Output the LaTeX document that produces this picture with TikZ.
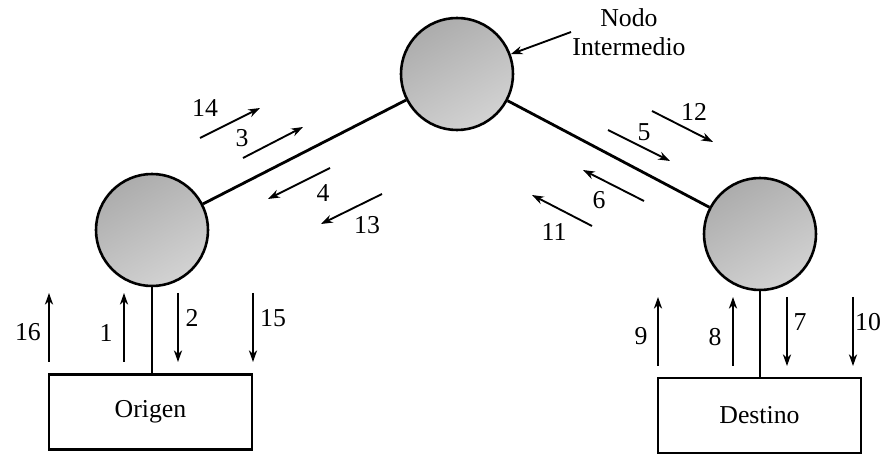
\documentclass[tikz,border=0pt]{standalone}
\usepackage{fontspec}
\setmainfont{Liberation Serif}
\usepackage{tikz}
\usetikzlibrary{positioning,arrows.meta}

\begin{document}
\begin{tikzpicture}[x=0.03cm,y=-0.03cm,every node/.style={font=\fontsize{22}{25}\selectfont},
    nodo/.style={circle,draw,line width=2.2pt,inner sep=0pt,minimum size=3.36cm,
      shading=axis,top color=gray!65,bottom color=gray!35,shading angle=30},
    caja/.style={draw,line width=2.2pt,minimum width=6.1cm,minimum height=2.25cm},
    enlace/.style={line width=2.4pt},
    msj/.style={-{Stealth[length=10pt,width=7pt]},line width=1.6pt}]
  \useasboundingbox (0,0) rectangle (884,455);
  % nodos de la red
  \node[nodo] (ninter) at (457,74) {};
  \node[nodo] (norig) at (152,230) {};
  \node[nodo] (ndest) at (760,234) {};
  \node[caja] (origen) at (150.5,412) {Origen};
  \node[caja] (destino) at (759.5,415.5) {Destino};
  \draw[enlace] (norig) -- (ninter);
  \draw[enlace] (ninter) -- (ndest);
  \draw[enlace] (norig) -- (norig |- origen.north);
  \draw[enlace] (ndest) -- (ndest |- destino.north);
  \node[align=center,inner sep=1pt] (etiq) at (629,32) {Nodo\\Intermedio};
  \draw[-{Stealth[length=10pt,width=7pt]},line width=1.6pt] (etiq.west) -- (ninter);
  % mensajes numerados
  \foreach \n/\xa/\ya/\xb/\yb/\lx/\ly in {
      16/49/362/49/293/28/332, 1/124/362/124/293/106/333,
      2/178/293/178/362/192/318, 15/253/293/253/362/273/318,
      14/200/138/260/108/205/108, 3/243/158/303/127/242/138,
      4/330/168/268/199/323/193, 13/382/194/321/224/367/225,
      12/652/111/713/142/694/112, 5/608/130/670/161/644/132,
      6/644/201/583/170/599/200, 11/592/226/532/195/554/232,
      9/658/366/658/297/641/336, 8/733/366/733/297/715/337,
      7/787/297/787/366/800/322, 10/853/297/853/366/868/322} {
    \coordinate (a\n) at (\xa,\ya);
    \coordinate (b\n) at (\xb,\yb);
    \draw[msj] (a\n) -- (b\n);
    \node[inner sep=1pt] (m\n) at (\lx,\ly) {\n};
  }
\end{tikzpicture}
\end{document}
